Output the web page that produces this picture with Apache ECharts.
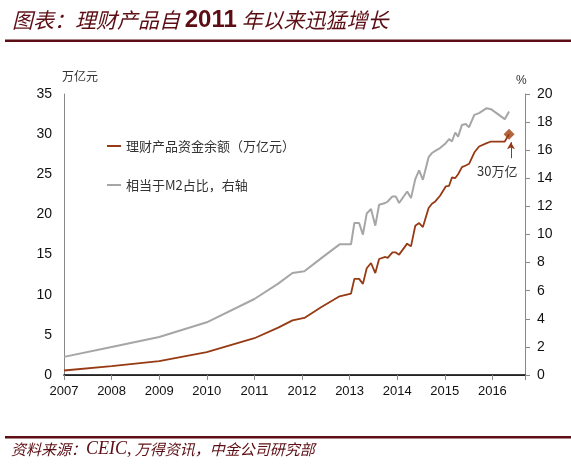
<!DOCTYPE html>
<html>
<head>
<meta charset="utf-8">
<script src="https://cdn.jsdelivr.net/npm/echarts@6/dist/echarts.min.js"></script>
<style>html,body{margin:0;padding:0;background:#fff}#c{width:571px;height:469px}</style>
</head>
<body>
<div id="c"></div>
<script>
// Time (decimal year)
const years = [2007.0, 2008.0, 2009.0, 2010.0, 2011.0, 2011.5, 2011.8, 2012.05, 2012.4, 2012.79,
  2013.03, 2013.1, 2013.2, 2013.28, 2013.36, 2013.45, 2013.54, 2013.62, 2013.75, 2013.8,
  2013.9, 2013.97, 2014.04, 2014.21, 2014.29, 2014.38, 2014.46, 2014.54, 2014.66, 2014.73,
  2014.8, 2014.9, 2015.02, 2015.09, 2015.15, 2015.22, 2015.28, 2015.36, 2015.44, 2015.51,
  2015.62, 2015.72, 2015.88, 2015.97, 2016.26, 2016.35];
// 理财产品资金余额（万亿元）
const wealth = [0.56, 1.1, 1.72, 2.84, 4.58, 5.9, 6.8, 7.11, 8.45, 9.8,
  10.15, 11.97, 11.97, 11.35, 13.3, 13.95, 12.7, 14.45, 14.7, 14.58,
  15.27, 15.27, 14.99, 16.36, 16.02, 18.59, 18.93, 18.43, 20.8, 21.33,
  21.62, 22.33, 23.48, 23.57, 24.6, 24.53, 25.0, 25.9, 26.1, 26.31,
  27.71, 28.46, 28.88, 29.08, 29.08, 30.0];
// 相当于M2占比（%），右轴
const m2Share = [1.29, 2.0, 2.71, 3.75, 5.41, 6.5, 7.26, 7.38, 8.3, 9.3,
  9.3, 10.82, 10.82, 9.99, 11.5, 11.81, 10.63, 12.12, 12.24, 12.35,
  12.71, 12.71, 12.24, 13.06, 12.59, 13.94, 14.56, 13.89, 15.5, 15.8,
  15.95, 16.15, 16.5, 16.79, 16.62, 17.26, 16.97, 17.8, 17.87, 17.64,
  18.51, 18.64, 18.99, 18.92, 18.21, 18.75];
const xMin = 2007, xMax = 2016.685;
const leftTicks = {min: 0, max: 35, interval: 5};
const rightTicks = {min: 0, max: 20, interval: 2};
const names = ['理财产品资金余额（万亿元）', '相当于M2占比，右轴'];
const lastYear = years[years.length - 1];
const lastValue = wealth[wealth.length - 1];

const brown = '#963a14';
const grey = '#a6a6a6';
const maroon = '#5c0e14';
const axisGrey = '#888888';

const chart = echarts.init(document.getElementById('c'), null, {renderer: 'canvas'});
chart.setOption({
  animation: false,
  backgroundColor: '#fff',
  grid: {left: 64, right: 46, top: 94, bottom: 94, containLabel: false},
  legend: {
    orient: 'vertical', left: 102, top: 133, itemGap: 23,
    icon: 'rect', itemWidth: 14, itemHeight: 2,
    data: names,
    textStyle: {fontSize: 13, color: '#333', lineHeight: 16, fontFamily: 'Noto Sans CJK SC'}
  },
  xAxis: [{
    type: 'value', min: xMin, max: xMax, interval: 1,
    axisLine: {show: true, lineStyle: {color: axisGrey, width: 1}},
    axisTick: {show: true, inside: false, length: 5, lineStyle: {color: axisGrey}},
    axisLabel: {color: '#111', fontSize: 13, fontFamily: 'Liberation Sans', margin: 10,
      formatter: v => Number.isInteger(v) ? String(v) : ''},
    splitLine: {show: false}
  }, {
    type: 'value', position: 'top', min: xMin, max: xMax,
    axisLine: {show: true, lineStyle: {color: '#000', width: 1.5}},
    axisTick: {show: false}, axisLabel: {show: false}, splitLine: {show: false}
  }],
  yAxis: [{
    type: 'value', min: leftTicks.min, max: leftTicks.max, interval: leftTicks.interval,
    axisLine: {show: true, lineStyle: {color: axisGrey}},
    axisTick: {show: false},
    axisLabel: {color: '#111', fontSize: 14, fontFamily: 'Liberation Sans', margin: 12},
    splitLine: {show: false}
  }, {
    type: 'value', position: 'right', min: rightTicks.min, max: rightTicks.max, interval: rightTicks.interval,
    axisLine: {show: true, lineStyle: {color: axisGrey}},
    axisTick: {show: true, inside: false, length: 5, lineStyle: {color: axisGrey}},
    axisLabel: {color: '#111', fontSize: 14, fontFamily: 'Liberation Sans', margin: 12},
    splitLine: {show: false}
  }],
  series: [{
    name: names[0], type: 'line', xAxisIndex: 0, yAxisIndex: 0,
    data: years.map((t, i) => [t, wealth[i]]),
    showSymbol: false, lineStyle: {color: brown, width: 1.8}, itemStyle: {color: brown}, z: 3,
    markLine: {
      silent: true, symbol: ['none', 'arrow'], symbolSize: [6, 7],
      lineStyle: {color: brown, width: 1, type: 'solid'},
      label: {show: false},
      data: [[{coord: [2016.39, 27.0]}, {coord: [2016.39, 29.0]}]]
    }
  }, {
    name: names[1], type: 'line', xAxisIndex: 0, yAxisIndex: 1,
    data: years.map((t, i) => [t, m2Share[i]]),
    showSymbol: false, lineStyle: {color: grey, width: 2}, itemStyle: {color: grey}, z: 2
  }, {
    name: 'last', type: 'scatter', xAxisIndex: 0, yAxisIndex: 0,
    data: [[lastYear, lastValue]], symbol: 'diamond', symbolSize: 11,
    itemStyle: {color: '#a0400f'}, z: 4
  }],
  graphic: [
    {type: 'text', left: 12, top: 8, style: {
      text: '{a|图表：理财产品自 }{b|2011}{a| 年以来迅猛增长}',
      rich: {
        a: {fontSize: 21, fontStyle: 'italic', fontFamily: 'Noto Sans CJK SC', fill: maroon, fontWeight: 'normal'},
        b: {fontSize: 24, fontWeight: 'bold', fontFamily: 'Liberation Sans', fill: maroon}
      }
    }},
    {type: 'rect', shape: {x: 5, y: 39.5, width: 566, height: 2.5}, style: {fill: maroon}},
    {type: 'rect', shape: {x: 5, y: 436, width: 566, height: 2.5}, style: {fill: maroon}},
    {type: 'text', left: 11, top: 440, style: {
      text: '{a|资料来源：}{b|CEIC,}{a| 万得资讯，中金公司研究部}',
      rich: {
        a: {fontSize: 15, fontStyle: 'italic', fontFamily: 'Noto Sans CJK SC', fill: maroon},
        b: {fontSize: 18, fontStyle: 'italic', fontFamily: 'Liberation Serif', fill: maroon}
      }
    }},
    {type: 'text', left: 62, top: 70, style: {text: '万亿元', fontSize: 12, fontFamily: 'Noto Sans CJK SC', fill: '#333'}},
    {type: 'text', left: 516, top: 75, style: {text: '%', fontSize: 12, fontFamily: 'Liberation Sans', fill: '#333'}},
    {type: 'text', left: 477, top: 165, style: {text: '30万亿', fontSize: 13, fontFamily: 'Noto Sans CJK SC', fill: '#333'}}
  ]
});
</script>
</body>
</html>
